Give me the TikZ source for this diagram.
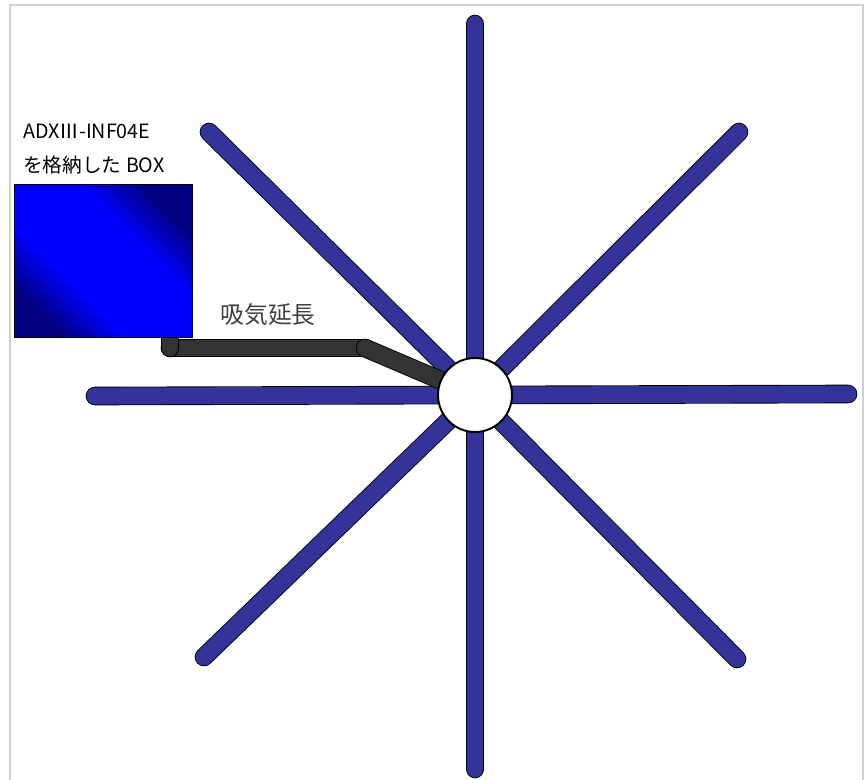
\documentclass[tikz,border=0pt]{standalone}
\usepackage{fontspec}
\setmainfont{Noto Sans CJK JP}
\usetikzlibrary{calc}
\definecolor{spokeblue}{HTML}{333399}
\definecolor{pipegray}{HTML}{333333}
\definecolor{framegray}{HTML}{D0D0D0}
\definecolor{boxnavy}{HTML}{000080}
\pgfdeclarehorizontalshading{boxshade}{100bp}{color(0bp)=(boxnavy); color(25bp)=(boxnavy); color(39bp)=(blue); color(61bp)=(blue); color(75bp)=(boxnavy); color(100bp)=(boxnavy)}
\pgfdeclarelayer{background}
\pgfsetlayers{background,main}

\begin{document}
\begin{tikzpicture}[x=0.02cm, y=-0.02cm,
  spoke/.style={draw=black, line width=0.5pt, double=spokeblue, double distance=9.6pt, line cap=round},
  pipe/.style={draw=black, line width=0.5pt, double=pipegray, double distance=9.6pt, line cap=round, line join=round},
  every node/.style={font=\normalsize}]
  \useasboundingbox (0,0) rectangle (868,780);
  \draw[framegray, line width=0.8pt] (10,800) -- (10,5) -- (863,5) -- (863,800);

  % hub and box
  \node[circle, draw=black, line width=1.1pt, fill=white, minimum size=1.48cm, inner sep=0pt] (hub) at (475,395) {};
  \node[draw=black, line width=0.5pt, minimum width=3.56cm, minimum height=3.06cm, inner sep=0pt,
        shade, shading=boxshade, shading angle=45] (box) at (103,260.5) {};
  \node[anchor=west, font=\fontsize{11.2}{13}\selectfont] (boxname) at (17,131) {ADXⅢ-INF04E};
  \node[anchor=west, font=\fontsize{11.2}{13}\selectfont] (boxnote) at (17,165) {を格納した BOX};
  \node[font=\fontsize{13.5}{15}\selectfont, text=black!75] (pipename) at (268,315) {吸気延長};

  \coordinate (n) at (475,24);
  \coordinate (s) at (475,769);
  \coordinate (w) at (95,396);
  \coordinate (e) at (848,394);
  \coordinate (nw) at (209,132);
  \coordinate (ne) at (739,132);
  \coordinate (sw) at (204,657);
  \coordinate (se) at (737,659);
  \coordinate (corner) at (170,348);
  \coordinate (bend) at (365,348);

  \begin{pgfonlayer}{background}
    \foreach \p in {n,s,w,e,nw,ne,sw,se}
      \draw[spoke] (hub.center) -- (\p);
    \draw[pipe] (corner) -- (bend);
    \draw[pipe] (bend) -- (hub.center);
    \draw[pipe] (corner |- box.south) -- (corner);
  \end{pgfonlayer}
\end{tikzpicture}
\end{document}
